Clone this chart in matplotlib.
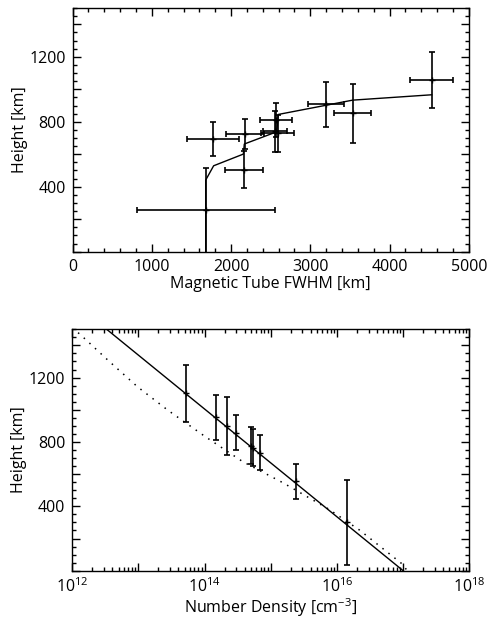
import matplotlib
matplotlib.use('Agg')
import math
import matplotlib.pyplot as plt
from matplotlib.ticker import (MultipleLocator, FuncFormatter, FixedLocator,
                               NullFormatter)

plt.rcParams['font.family'] = ['Open Sans', 'DejaVu Sans']
plt.rcParams['mathtext.default'] = 'regular'

# top panel: tube width vs height
fwhm = [1680, 1776, 2175, 2160, 2565, 2590, 2550, 3193, 3533, 4530]
fwhm_err = [870, 330, 235, 242, 205, 210, 150, 227, 236, 270]
h_top = [255, 692, 722, 505, 810, 728, 740, 907, 852, 1057]
h_top_err = [260, 105, 92, 112, 105, 115, 125, 140, 180, 175]

model_fwhm = [1680, 1680, 1780, 2155, 2167, 2575, 2596, 3533, 4530]
model_h = [0, 441, 529, 601, 663, 738, 845, 933, 966]

# bottom panel: number density vs height
dens = [5.2e13, 1.48e14, 2.15e14, 2.97e14, 5.0e14, 5.4e14, 6.8e14, 2.4e15, 1.43e16]
h_bot = [1101, 953, 899, 858, 777, 765, 734, 555, 301]
h_bot_err = [178, 140, 180, 110, 117, 117, 110, 108, 265]

fit_dens = [3.3e12, 1.0e17]
fit_h = [1500, 0]

atm_dens = [1.0e12, 1.37e12, 3.6e12, 9.7e12, 2.76e13, 1.02e14, 3.75e14, 1.5e15,
            7.4e15, 2.2e16, 9.8e16, 1.15e17]
atm_h = [1510, 1461, 1301, 1142, 998, 833, 678, 548, 384, 252, 40, 0]

decades = [12, 13, 14, 15, 16, 17, 18]

fig = plt.figure(figsize=(4.91, 6.18), dpi=100)
ax1 = fig.add_axes([0.1477, 0.5927, 0.8073, 0.3943])
ax2 = fig.add_axes([0.1473, 0.0765, 0.8086, 0.3907])

fs = 11.5

def style(ax):
    ax.tick_params(which='both', direction='in', top=True, right=True,
                   labelsize=fs, width=1.0, pad=5)
    ax.tick_params(which='major', length=6)
    ax.tick_params(which='minor', length=3)
    for s in ax.spines.values():
        s.set_linewidth(1.0)

def height_fmt(v, p):
    return '%d' % v if v > 0 and int(v) % 400 == 0 else ''

def dens_fmt(v, p):
    e = round(math.log10(v))
    return r'$10^{%d}$' % e if e % 2 == 0 else ''

# ---- top panel
ax1.errorbar(fwhm, h_top, xerr=fwhm_err, yerr=h_top_err, fmt='+', color='black',
             ms=5, elinewidth=1.2, capsize=2.5, capthick=1.2)
ax1.plot(model_fwhm, model_h, color='black', lw=1.0)
ax1.set_xlim(0, 5000)
ax1.set_ylim(0, 1500)
ax1.xaxis.set_major_locator(MultipleLocator(1000))
ax1.xaxis.set_minor_locator(MultipleLocator(200))
ax1.yaxis.set_major_locator(MultipleLocator(200))
ax1.yaxis.set_minor_locator(MultipleLocator(50))
ax1.yaxis.set_major_formatter(FuncFormatter(height_fmt))
ax1.set_xlabel('Magnetic Tube FWHM [km]', fontsize=fs, labelpad=1)
ax1.set_ylabel('Height [km]', fontsize=fs, labelpad=1)
style(ax1)

# ---- bottom panel
ax2.errorbar(dens, h_bot, yerr=h_bot_err, fmt='+', color='black',
             ms=5, elinewidth=1.2, capsize=2.5, capthick=1.2)
ax2.plot(fit_dens, fit_h, color='black', lw=1.0)
ax2.plot(atm_dens, atm_h, color='black', lw=1.1, ls=(0, (1, 4)))
ax2.set_xscale('log')
ax2.set_xlim(1e12, 1e18)
ax2.set_ylim(0, 1500)
ax2.xaxis.set_major_locator(FixedLocator([10.0 ** d for d in decades]))
ax2.xaxis.set_minor_locator(FixedLocator(
    [m * 10.0 ** d for d in decades[:-1] for m in range(2, 10)]))
ax2.xaxis.set_minor_formatter(NullFormatter())
ax2.xaxis.set_major_formatter(FuncFormatter(dens_fmt))
ax2.yaxis.set_major_locator(MultipleLocator(200))
ax2.yaxis.set_minor_locator(MultipleLocator(50))
ax2.yaxis.set_major_formatter(FuncFormatter(height_fmt))
ax2.set_xlabel('Number Density [cm$^{-3}$]', fontsize=fs, labelpad=0)
ax2.set_ylabel('Height [km]', fontsize=fs, labelpad=1)
style(ax2)

fig.savefig('out.png', dpi=100)
